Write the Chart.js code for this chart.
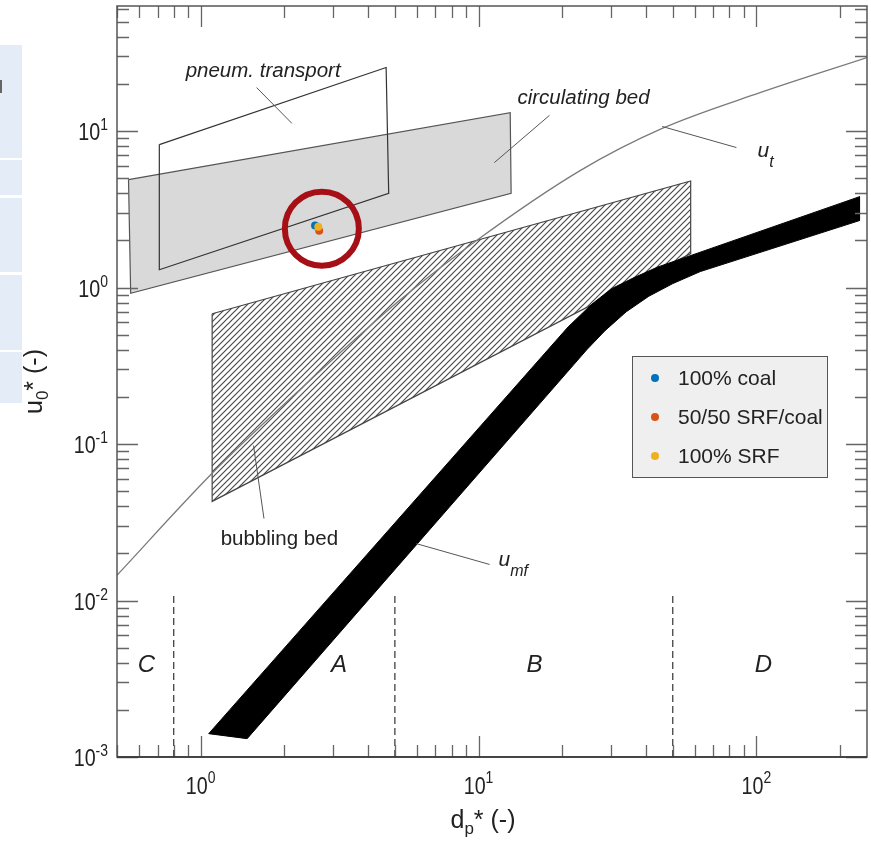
<!DOCTYPE html>
<html>
<head>
<meta charset="utf-8">
<script src="https://cdn.jsdelivr.net/npm/chart.js@4.4.1/dist/chart.umd.min.js"></script>
<style>
  body { margin: 0; background: #fff; }
  #wrap { position: relative; width: 871px; height: 845px; }
  .side { position: absolute; left: 0; width: 22px; background: #e4ecf7; }
  canvas { position: absolute; left: 0; top: 0; }
</style>
</head>
<body>
<div id="wrap">
  <div class="side" style="top:45px;height:113px"></div>
  <div class="side" style="top:160px;height:35px"></div>
  <div class="side" style="top:198px;height:74px"></div>
  <div class="side" style="top:275px;height:75px"></div>
  <div class="side" style="top:352px;height:51px"></div>
  <div style="position:absolute;left:0;top:80px;width:2px;height:13px;background:#666"></div>
  <canvas id="chart" width="871" height="845"></canvas>
</div>
<script>
// axis ranges and tick labels
const xMin = 0.5, xMax = 250;
const yMin = 0.001, yMax = 63;
const majorX = [0.1, 1, 10, 100];
const majorY = [0.001, 0.01, 0.1, 1, 10];

// regime areas
const circX = [0.55, 13.0, 13.1, 0.56, 0.55];
const circY = [4.9, 13.1, 4.0, 0.92, 4.9];
const pneuX = [0.71, 4.65, 4.75, 0.71, 0.71];
const pneuY = [8.2, 25.5, 4.0, 1.3, 8.2];
const bubbX = [1.1, 58, 58, 1.1, 1.1];
const bubbY = [0.68, 4.8, 1.65, 0.043, 0.68];

// terminal velocity curve
const utX = [0.5, 1.1, 2.26, 5.19, 9.84, 23.2, 45.8, 103, 250];
const utY = [0.0145, 0.065, 0.22, 0.826, 2.0, 5.59, 10.4, 17.6, 29.5];

// minimum fluidisation band (upper edge left->right, lower edge right->left)
const umfUpX = [1.069, 21.0, 25.5, 30.0, 36.0, 44.0, 235];
const umfUpY = [0.00141, 0.56, 0.78, 0.98, 1.15, 1.35, 3.81];
const umfLoX = [235, 62.8, 50.0, 41.0, 34.0, 28.5, 24.5, 1.47];
const umfLoY = [2.68, 1.265, 1.06, 0.88, 0.70, 0.53, 0.40, 0.00131];

// Geldart group boundaries
const groupBounds = [0.8, 5, 50];
const boundTop = 0.011;
const groupNames = ['C', 'A', 'B', 'D'];
const groupX = [0.638, 3.15, 15.9, 106];
const groupY = 0.00347;

// measured fuels
const fuels = ['100% coal', '50/50 SRF/coal', '100% SRF'];
const fuelX = [2.58, 2.67, 2.65];
const fuelY = [2.49, 2.31, 2.45];
const fuelColors = ['#0072BD', '#D95319', '#EDB120'];
const ringX = 2.73, ringY = 2.38;

// labels with leader lines
const notes = [
  { text: 'pneum. transport', x: 0.883, y: 22.0, italic: true, lx: [1.59, 2.13], ly: [18.97, 11.2] },
  { text: 'circulating bed', x: 13.8, y: 15.0, italic: true, lx: [18.0, 11.4], ly: [12.6, 6.29] },
  { text: 'bubbling bed', x: 1.18, y: 0.0228, italic: false, lx: [1.55, 1.69], ly: [0.0978, 0.0334] },
  { text: 'u', sub: 't', x: 100.9, y: 6.87, italic: true, lx: [45.8, 84.7], ly: [10.7, 7.85] },
  { text: 'u', sub: 'mf', x: 11.8, y: 0.01674, italic: true, lx: [5.97, 10.96], ly: [0.0231, 0.017] }
];

const FONT = '"Liberation Sans", Arial, Helvetica, sans-serif';

function pts(xs, ys) {
  return xs.map((x, i) => ({ x: x, y: ys[i] }));
}

// hatch pattern for the bubbling bed
function hatch() {
  const c = document.createElement('canvas');
  const s = 6;
  c.width = s; c.height = s;
  const g = c.getContext('2d');
  g.strokeStyle = '#4a4a4a';
  g.lineWidth = 1.2;
  g.beginPath();
  g.moveTo(-1, s + 1); g.lineTo(s + 1, -1);
  g.moveTo(-1, 1); g.lineTo(1, -1);
  g.moveTo(s - 1, s + 1); g.lineTo(s + 1, s - 1);
  g.stroke();
  return g.createPattern(c, 'repeat');
}

const datasets = [];
datasets.push({ data: pts(circX, circY), fill: 'shape', backgroundColor: '#d9d9d9',
  borderColor: '#555', borderWidth: 1.2, order: 20 });
datasets.push({ data: pts(pneuX, pneuY), fill: false, borderColor: '#333', borderWidth: 1.2, order: 19 });
datasets.push({ data: pts(bubbX, bubbY), fill: 'shape', backgroundColor: hatch(),
  borderColor: '#444', borderWidth: 1.2, order: 18 });
datasets.push({ data: pts(utX, utY), fill: false, borderColor: '#7a7a7a', borderWidth: 1.3,
  cubicInterpolationMode: 'monotone', order: 17 });
datasets.push({ data: pts(umfUpX.concat(umfLoX), umfUpY.concat(umfLoY)).concat([{ x: umfUpX[0], y: umfUpY[0] }]),
  fill: 'shape', backgroundColor: '#000', borderColor: '#000', borderWidth: 1, order: 16 });
notes.forEach(n => {
  datasets.push({ data: pts(n.lx, n.ly), fill: false, borderColor: '#555', borderWidth: 1, order: 15 });
});
groupBounds.forEach(b => {
  datasets.push({ data: [{ x: b, y: yMin }, { x: b, y: boundTop }], fill: false,
    borderColor: '#333', borderWidth: 1.2, borderDash: [7, 4], order: 14 });
});
datasets.push({ data: [{ x: ringX, y: ringY }], showLine: false, pointRadius: 37, pointBorderWidth: 6,
  pointBorderColor: '#a50f15', pointBackgroundColor: 'rgba(0,0,0,0)', order: 5 });
fuels.forEach((f, i) => {
  datasets.push({ label: f, data: [{ x: fuelX[i], y: fuelY[i] }], showLine: false, pointRadius: 4,
    pointBorderWidth: 0, pointBackgroundColor: fuelColors[i], order: 3 - i });
});

function drawRich(ctx, x, y, parts, align) {
  let w = 0;
  parts.forEach(p => {
    ctx.font = (p.italic ? 'italic ' : '') + p.size + 'px ' + FONT;
    p.w = ctx.measureText(p.text).width;
    w += p.w;
  });
  let cx = align === 'right' ? x - w : align === 'center' ? x - w / 2 : x;
  ctx.textAlign = 'left';
  ctx.textBaseline = 'alphabetic';
  parts.forEach(p => {
    ctx.font = (p.italic ? 'italic ' : '') + p.size + 'px ' + FONT;
    ctx.fillText(p.text, cx, y + (p.dy || 0));
    cx += p.w;
  });
}

const decor = {
  id: 'decor',
  afterDatasetsDraw(chart) {
    const { ctx, chartArea: ca } = chart;
    const xs = chart.scales.x, ys = chart.scales.y;
    ctx.save();

    // ticks on all four sides, pointing inwards
    ctx.strokeStyle = '#666';
    ctx.lineWidth = 1.3;
    ctx.beginPath();
    majorX.forEach(d => {
      for (let m = 1; m <= 9; m++) {
        const v = m * d;
        if (v < xMin || v > xMax) continue;
        const px = Math.round(xs.getPixelForValue(v)) + 0.5;
        const len = m === 1 ? 21 : 12;
        ctx.moveTo(px, ca.bottom); ctx.lineTo(px, ca.bottom - len);
        ctx.moveTo(px, ca.top); ctx.lineTo(px, ca.top + len);
      }
    });
    majorY.forEach(d => {
      for (let m = 1; m <= 9; m++) {
        const v = m * d;
        if (v < yMin || v > yMax) continue;
        const py = Math.round(ys.getPixelForValue(v)) + 0.5;
        const len = m === 1 ? 21 : 12;
        ctx.moveTo(ca.left, py); ctx.lineTo(ca.left + len, py);
        ctx.moveTo(ca.right, py); ctx.lineTo(ca.right - len, py);
      }
    });
    ctx.stroke();

    // frame
    ctx.strokeStyle = '#555';
    ctx.lineWidth = 1.5;
    ctx.strokeRect(ca.left, ca.top, ca.right - ca.left, ca.bottom - ca.top);
    ctx.strokeStyle = '#333';
    ctx.beginPath();
    ctx.moveTo(ca.left, ca.bottom); ctx.lineTo(ca.right, ca.bottom);
    ctx.stroke();

    // tick labels, slightly squeezed like the scanned original
    const sq = 0.82;
    ctx.fillStyle = '#222';
    majorX.forEach(v => {
      if (v < xMin || v > xMax) return;
      const e = Math.round(Math.log10(v));
      const px = xs.getPixelForValue(v);
      ctx.save();
      ctx.translate(px, ca.bottom + 37);
      ctx.scale(sq, 1);
      drawRich(ctx, 0, 0, [{ text: '10', size: 24 }, { text: String(e), size: 17, dy: -11 }], 'center');
      ctx.restore();
    });
    majorY.forEach(v => {
      const e = Math.round(Math.log10(v));
      const py = ys.getPixelForValue(v);
      ctx.save();
      ctx.translate(ca.left - 9, py + 9);
      ctx.scale(sq, 1);
      drawRich(ctx, 0, 0, [{ text: '10', size: 24 }, { text: String(e), size: 17, dy: -10 }], 'right');
      ctx.restore();
    });

    // axis titles
    drawRich(ctx, (ca.left + ca.right) / 2 - 9, ca.bottom + 71,
      [{ text: 'd', size: 25 }, { text: 'p', size: 17, dy: 6 }, { text: '* (-)', size: 25 }], 'center');
    ctx.save();
    ctx.translate(42, (ca.top + ca.bottom) / 2);
    ctx.rotate(-Math.PI / 2);
    drawRich(ctx, 0, 0, [{ text: 'u', size: 25 }, { text: '0', size: 17, dy: 6 }, { text: '* (-)', size: 25 }], 'center');
    ctx.restore();

    // regime notes
    notes.forEach(n => {
      const px = xs.getPixelForValue(n.x), py = ys.getPixelForValue(n.y);
      const parts = [{ text: n.text, size: n.sub ? 21 : 20.5, italic: n.italic }];
      if (n.sub) parts.push({ text: n.sub, size: 16, italic: true, dy: 10 });
      drawRich(ctx, px, py, parts, 'left');
    });

    // Geldart groups
    groupNames.forEach((g, i) => {
      drawRich(ctx, xs.getPixelForValue(groupX[i]), ys.getPixelForValue(groupY),
        [{ text: g, size: 24, italic: true }], 'center');
    });

    // legend box
    const lx = ca.right - 235, ly = ca.top + 350, lw = 195, lh = 121;
    ctx.fillStyle = '#efefef';
    ctx.fillRect(lx, ly, lw, lh);
    ctx.strokeStyle = '#555';
    ctx.lineWidth = 1;
    ctx.strokeRect(lx + 0.5, ly + 0.5, lw, lh);
    fuels.forEach((f, i) => {
      const cy = ly + 22 + i * 39;
      ctx.fillStyle = fuelColors[i];
      ctx.beginPath();
      ctx.arc(lx + 23, cy, 4, 0, Math.PI * 2);
      ctx.fill();
      ctx.fillStyle = '#222';
      drawRich(ctx, lx + 46, cy + 7, [{ text: f, size: 21 }], 'left');
    });

    ctx.restore();
  }
};

new Chart(document.getElementById('chart'), {
  type: 'line',
  data: { datasets: datasets },
  options: {
    responsive: false,
    animation: false,
    devicePixelRatio: 1,
    events: [],
    layout: { autoPadding: false, padding: { left: 117, top: 6, right: 4, bottom: 88 } },
    elements: { line: { tension: 0 }, point: { radius: 0 } },
    scales: {
      x: { type: 'logarithmic', min: xMin, max: xMax, display: false },
      y: { type: 'logarithmic', min: yMin, max: yMax, display: false }
    },
    plugins: { legend: { display: false }, tooltip: { enabled: false } }
  },
  plugins: [decor]
});
</script>
</body>
</html>
